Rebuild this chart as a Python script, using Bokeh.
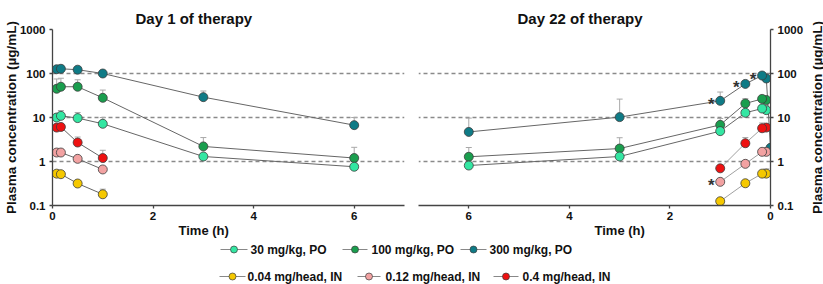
import math
from bokeh.plotting import figure
from bokeh.layouts import column, row
from bokeh.models import Range1d, FixedTicker, Title
from bokeh.core.properties import value
from bokeh.embed import file_html
from bokeh.resources import INLINE

# ---------------- data ----------------
t_po = [0.083, 0.167, 0.5, 1, 3, 6]
t_in = [0.083, 0.167, 0.5, 1]
t_po300_d22 = [0, 0.083, 0.167, 0.5, 1, 3, 6]

# Day 1
po30_d1 = [10.0, 10.9, 9.7, 7.2, 1.3, 0.76]
po30_d1_sd = [2.0, 3.5, 3.3, 2.8, 0, 0]
po100_d1 = [45, 50, 50, 28, 2.2, 1.2]
po100_d1_sd = [30, 28, 22, 14, 1.3, 0.9]
po300_d1 = [125, 128, 122, 100, 29, 6.7]
po300_d1_sd = [0, 0, 0, 0, 11, 3.3]
in004_d1 = [0.53, 0.515, 0.316, 0.18]
in004_d1_sd = [0, 0, 0, 0.055]
in012_d1 = [1.6, 1.6, 1.15, 0.66]
in012_d1_sd = [0, 0, 0, 0]
in04_d1 = [5.9, 6.1, 2.7, 1.2]
in04_d1_sd = [0, 0, 0.9, 0.6]

# Day 22
po30_d22 = [14.7, 16.0, 12.8, 4.9, 1.3, 0.81]
po30_d22_sd = [0, 0, 0, 0, 0, 0]
po100_d22 = [25, 26.5, 20.8, 6.8, 1.97, 1.28]
po100_d22_sd = [0, 0, 6, 2.7, 1.5, 0.8]
po300_d22 = [2.05, 77, 90, 58, 23.9, 10.2, 4.7]
po300_d22_sd = [0, 0, 0, 0, 14, 16, 5]
in004_d22 = [0.53, 0.53, 0.32, 0.125]
in004_d22_sd = [0.15, 0, 0, 0]
in012_d22 = [1.66, 1.66, 0.885, 0.345]
in012_d22_sd = [0, 0, 0, 0]
in04_d22 = [5.9, 5.7, 2.6, 0.70]
in04_d22_sd = [0, 1.8, 0.9, 0]

# significance markers (day 22)
sig_t = [1, 0.5, 0.167, 1]
sig_v = [23.9, 58, 90, 0.345]

labels = ["30 mg/kg, PO", "100 mg/kg, PO", "300 mg/kg, PO",
          "0.04 mg/head, IN", "0.12 mg/head, IN", "0.4 mg/head, IN"]
colors = ["#33e6a2", "#1a9e4e", "#0f7b86", "#f5c800", "#f2a2a2", "#ee1111"]

y_ticks = [0.1, 1, 10, 100, 1000]
x_ticks = [0, 2, 4, 6]
y_label = "Plasma concentration (\u00b5g/mL)"

FONT = "Liberation Sans"
AXC = "#444444"
TXT = "#111111"


def style(p):
    p.background_fill_color = "white"
    p.border_fill_color = "white"
    p.outline_line_color = None
    p.xgrid.visible = False
    p.ygrid.ticker = FixedTicker(ticks=[1, 10, 100, 1000])
    p.ygrid.grid_line_color = "#8a8a8a"
    p.ygrid.grid_line_dash = "4 3"
    p.ygrid.grid_line_width = 1.4
    for ax in [p.xaxis[0], p.yaxis[0]]:
        ax.axis_line_color = AXC
        ax.axis_line_width = 1.3
        ax.major_tick_line_color = AXC
        ax.major_tick_line_width = 1.3
        ax.major_tick_out = 3
        ax.major_tick_in = 0
        ax.minor_tick_line_color = None
        ax.major_label_text_font = FONT
        ax.major_label_text_font_style = "bold"
        ax.major_label_text_font_size = "11.5px"
        ax.major_label_text_color = TXT
    p.xaxis.ticker = FixedTicker(ticks=x_ticks)
    p.yaxis.ticker = FixedTicker(ticks=y_ticks)
    p.yaxis.major_label_overrides = {0.1: "0.1", 1: "1", 10: "10", 100: "100", 1000: "1000"}
    p.xaxis.major_label_standoff = 3
    p.yaxis.major_label_standoff = 4
    p.title.text_font = FONT
    p.title.text_font_style = "bold"
    p.title.text_font_size = "15px"
    p.title.text_color = TXT
    p.title.align = "left"
    p.title.vertical_align = "top"
    p.title.text_line_height = 1.5
    p.title.standoff = 2


def time_title(p, offset):
    p.add_layout(Title(text="Time (h)", align="left", offset=offset, standoff=-4,
                       text_font=FONT, text_font_style="bold", text_font_size="13px",
                       text_color=TXT), "below")


def draw(p, t, v, sd, color, line_color):
    tops_t = [ti for ti, s in zip(t, sd) if s > 0]
    tops_lo = [vi for vi, s in zip(v, sd) if s > 0]
    tops_hi = [vi + s for vi, s in zip(v, sd) if s > 0]
    if tops_t:
        p.segment(x0=tops_t, y0=tops_lo, x1=tops_t, y1=tops_hi, line_color="#a8a8a8", line_width=1)
        p.scatter(x=tops_t, y=tops_hi, marker="dash", size=6, line_color="#a8a8a8", line_width=1)
    p.line(x=t, y=v, line_color=line_color, line_width=1)
    p.scatter(x=t, y=v, size=9, fill_color=color, line_color="#3c3c3c", line_width=0.8)


# ---------------- left panel ----------------
pl = figure(frame_width=352, frame_height=176, x_range=Range1d(0, 7), y_range=Range1d(0.1, 1000),
            y_axis_type="log", output_backend="svg", toolbar_location=None,
            title="Day 1 of therapy",
            min_border_left=51, min_border_right=7, min_border_top=29, min_border_bottom=37)
style(pl)
pl.yaxis.axis_label = y_label
pl.yaxis.axis_label_text_font = FONT
pl.yaxis.axis_label_text_font_style = "bold"
pl.yaxis.axis_label_text_font_size = "13.5px"
pl.yaxis.axis_label_text_color = TXT
pl.yaxis.axis_label_standoff = -2
pl.title.offset = 83
time_title(pl, 126)

draw(pl, t_po, po300_d1, po300_d1_sd, colors[2], "#666666")
draw(pl, t_po, po100_d1, po100_d1_sd, colors[1], "#666666")
draw(pl, t_po, po30_d1, po30_d1_sd, colors[0], "#666666")
draw(pl, t_in, in04_d1, in04_d1_sd, colors[5], "#666666")
draw(pl, t_in, in012_d1, in012_d1_sd, colors[4], "#666666")
draw(pl, t_in, in004_d1, in004_d1_sd, colors[3], "#666666")

# ---------------- right panel ----------------
pr = figure(frame_width=352, frame_height=176, x_range=Range1d(7, 0), y_range=Range1d(0.1, 1000),
            y_axis_type="log", y_axis_location="right", output_backend="svg", toolbar_location=None,
            title="Day 22 of therapy",
            min_border_left=7, min_border_right=37, min_border_top=29, min_border_bottom=37)
style(pr)
pr.title.offset = 99
time_title(pr, 176)

draw(pr, t_po300_d22, po300_d22, po300_d22_sd, colors[2], "#666666")
draw(pr, t_po, po100_d22, po100_d22_sd, colors[1], "#666666")
draw(pr, t_po, po30_d22, po30_d22_sd, colors[0], "#666666")
draw(pr, t_in, in04_d22, in04_d22_sd, colors[5], "#a0a0a0")
draw(pr, t_in, in012_d22, in012_d22_sd, colors[4], "#a0a0a0")
draw(pr, t_in, in004_d22, in004_d22_sd, colors[3], "#a0a0a0")

pr.text(x=sig_t, y=sig_v, text=["*"] * len(sig_t), x_offset=-9, y_offset=4,
        text_align="center", text_baseline="middle", text_font=value(FONT),
        text_font_style="bold", text_font_size="17px", text_color="#333333")

# right-hand axis title (reads bottom to top, like the left one)
pt = figure(frame_width=1, frame_height=176, x_range=Range1d(0, 1), y_range=Range1d(0, 1),
            x_axis_location=None, y_axis_location=None, output_backend="svg", toolbar_location=None,
            min_border_left=16, min_border_right=0, min_border_top=29, min_border_bottom=37)
pt.grid.visible = False
pt.outline_line_color = None
pt.border_fill_color = "white"
pt.background_fill_color = "white"
pt.add_layout(Title(text=y_label, align="center", standoff=0, text_font=FONT,
                    text_font_style="bold", text_font_size="13.5px", text_color=TXT), "left")

# ---------------- legend ----------------
LEG_H = 42
pg = figure(width=823, height=LEG_H, x_range=Range1d(0, 823), y_range=Range1d(LEG_H, 0),
            output_backend="svg", toolbar_location=None, min_border=0)
pg.axis.visible = False
pg.grid.visible = False
pg.outline_line_color = None
pg.background_fill_color = "white"
pg.border_fill_color = "white"

leg_x0 = [220, 342, 460, 219, 357, 493]
leg_x1 = [247, 367, 486, 245, 380, 518]
leg_y = [7, 7, 7, 34, 34, 34]
leg_tx = [250, 371, 489, 247, 385, 522]
leg_mx = [(a + b) / 2 for a, b in zip(leg_x0, leg_x1)]

pg.segment(x0=leg_x0, y0=leg_y, x1=leg_x1, y1=leg_y, line_color="#888888", line_width=1)
pg.scatter(x=leg_mx, y=leg_y, size=7, fill_color=colors, line_color="#3c3c3c", line_width=0.7)
pg.text(x=leg_tx, y=leg_y, text=labels, text_align="left", text_baseline="middle",
        text_font=value(FONT), text_font_style="bold", text_font_size="12px", text_color=TXT)

layout = column(row(pl, pr, pt, spacing=0), pg, spacing=0)
open("out.html", "w").write(file_html(layout, INLINE))
